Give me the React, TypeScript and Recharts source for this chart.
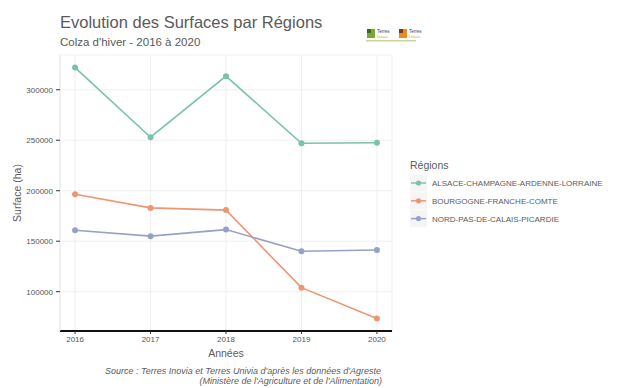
import React from 'react';
import { LineChart, Line, XAxis, YAxis, CartesianGrid } from 'recharts';

const years = [2016, 2017, 2018, 2019, 2020];
const acal = [322000, 253000, 313500, 247000, 247500];
const bfc = [196500, 183000, 180800, 104000, 73500];
const npcp = [160800, 155000, 161500, 140000, 141300];
const yTicks = [100000, 150000, 200000, 250000, 300000];

const seriesNames = [
  'ALSACE-CHAMPAGNE-ARDENNE-LORRAINE',
  'BOURGOGNE-FRANCHE-COMTE',
  'NORD-PAS-DE-CALAIS-PICARDIE',
];
const seriesKeys = ['acal', 'bfc', 'npcp'];
const seriesColors = ['#78c3aa', '#ee9672', '#95a1c6'];

const data = years.map((y, i) => ({ year: y, acal: acal[i], bfc: bfc[i], npcp: npcp[i] }));

const all = [...acal, ...bfc, ...npcp];
const minV = Math.min(...all);
const maxV = Math.max(...all);
const pad = (maxV - minV) * 0.05;
const yDomain = [minV - pad, maxV + pad];

const font = '"Liberation Sans", Arial, Helvetica, sans-serif';
const textColor = '#5c5c5c';

export default function App() {
  return (
    <div style={{ position: 'absolute', left: 0, top: 0, width: 627, height: 388, background: '#fff', fontFamily: font }}>
      <LineChart
        width={627}
        height={388}
        data={data}
        margin={{ top: 55, right: 235, bottom: 27, left: 0 }}
      >
        <CartesianGrid stroke="#ebebeb" strokeWidth={0.8} />
        <XAxis
          dataKey="year"
          type="number"
          domain={[2015.8, 2020.2]}
          ticks={years}
          allowDataOverflow
          height={30}
          axisLine={{ stroke: '#111', strokeWidth: 2 }}
          tickLine={{ stroke: '#333' }}
          tickSize={3}
          tickMargin={2}
          tick={{ fontSize: 8, fill: '#555', fontFamily: font }}
        />
        <YAxis
          type="number"
          domain={yDomain}
          ticks={yTicks}
          allowDataOverflow
          width={60}
          axisLine={{ stroke: '#e6e6e6', strokeWidth: 0.8 }}
          tickLine={{ stroke: '#333' }}
          tickSize={4}
          tickMargin={3}
          tick={{ fontSize: 8, fill: '#555', fontFamily: font }}
        />
        {seriesKeys.map((k, i) => (
          <Line
            key={k}
            dataKey={k}
            name={seriesNames[i]}
            stroke={seriesColors[i]}
            strokeWidth={1.6}
            dot={{ r: 3, fill: seriesColors[i], stroke: seriesColors[i], strokeWidth: 0 }}
            isAnimationActive={false}
          />
        ))}
      </LineChart>
      <svg width={627} height={388} style={{ position: 'absolute', left: 0, top: 0, pointerEvents: 'none' }}>
        <text x={60} y={28} fontSize={16.5} fill="#5a5a5a" fontFamily={font}>Evolution des Surfaces par Régions</text>
        <text x={60} y={46} fontSize={11.5} fill="#5a5a5a" fontFamily={font}>Colza d'hiver - 2016 à 2020</text>
        <text transform="translate(21,193) rotate(-90)" textAnchor="middle" fontSize={10.5} fill={textColor} fontFamily={font}>Surface (ha)</text>
        <text x={226} y={357} textAnchor="middle" fontSize={10.5} fill={textColor} fontFamily={font}>Années</text>
        <text x={381} y={374} textAnchor="end" fontSize={9} fontStyle="italic" fill={textColor} fontFamily={font}>Source : Terres Inovia et Terres Univia d'après les données d'Agreste</text>
        <text x={382} y={384} textAnchor="end" fontSize={9} fontStyle="italic" fill={textColor} fontFamily={font}>(Ministère de l'Agriculture et de l'Alimentation)</text>
        {/* logo */}
        <rect x={367} y={29} width={8} height={9} fill="#7aa832" />
        <rect x={367} y={29} width={4} height={4} fill="#3d6b1a" />
        <text x={377} y={33} fontSize={4.5} fill="#444" fontFamily={font}>Terres</text>
        <text x={377} y={38} fontSize={4} fill="#9bbf4a" fontFamily={font}>Inovia</text>
        <rect x={399} y={29} width={8} height={9} fill="#e98a22" />
        <rect x={399} y={29} width={4} height={4} fill="#7a3a10" />
        <text x={409} y={33} fontSize={4.5} fill="#444" fontFamily={font}>Terres</text>
        <text x={409} y={38} fontSize={4} fill="#e0a060" fontFamily={font}>Univia</text>
        <rect x={366} y={40} width={50} height={1.5} fill="#cfcf9a" />
        {/* legend */}
        <text x={410} y={169} fontSize={10.5} fill={textColor} fontFamily={font}>Régions</text>
        {seriesNames.map((n, i) => {
          const cy = 183 + i * 17.8;
          return (
            <g key={n}>
              <rect x={410} y={cy - 8.5} width={17} height={17} fill="#f5f5f5" />
              <line x1={411} x2={426} y1={cy} y2={cy} stroke={seriesColors[i]} strokeWidth={1.5} />
              <circle cx={418.5} cy={cy} r={2.6} fill={seriesColors[i]} />
              <text x={432} y={cy + 3} fontSize={8} fill={textColor} fontFamily={font}>{n}</text>
            </g>
          );
        })}
      </svg>
    </div>
  );
}
